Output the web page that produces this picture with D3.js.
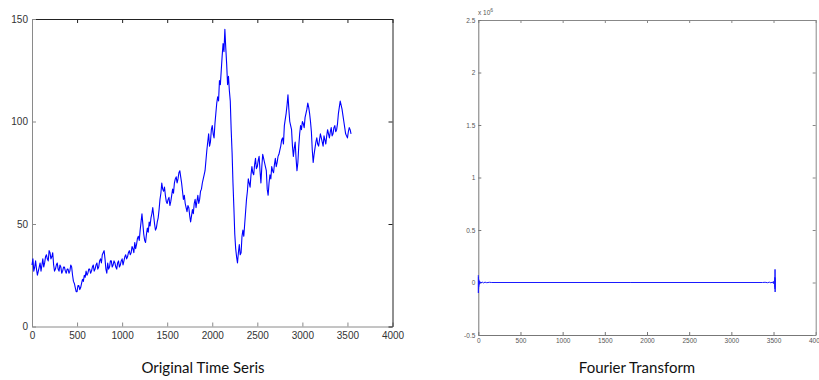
<!DOCTYPE html>
<html>
<head>
<meta charset="utf-8">
<script src="https://cdn.jsdelivr.net/npm/d3@7/dist/d3.min.js"></script>
<style>
  html, body { margin: 0; padding: 0; background: #fff; }
  svg { display: block; }
</style>
</head>
<body>
<svg id="chart" width="819" height="380"></svg>
<script>
// ---------------- DATA ----------------
const seriesStep = 10;
const seriesValues = [
  30, 33, 27, 29, 32, 28, 25, 27, 29, 31, 27, 30, 33, 29, 31, 34, 35, 33, 32, 37,
  36, 33, 34, 36, 30, 27, 28, 30, 31, 28, 27, 30, 29, 26, 27, 29, 29, 27, 26, 28,
  28, 26, 27, 30, 29, 25, 22, 21, 19, 17, 17, 20, 20, 18, 19, 21, 23, 22, 25, 24,
  27, 25, 26, 28, 28, 26, 27, 29, 30, 27, 28, 30, 31, 28, 29, 32, 33, 31, 35, 36,
  37, 33, 28, 26, 31, 28, 29, 32, 32, 29, 30, 32, 31, 29, 28, 31, 32, 29, 30, 32,
  33, 30, 32, 34, 35, 33, 34, 36, 37, 35, 36, 39, 38, 36, 41, 38, 40, 43, 44, 42,
  47, 51, 55, 50, 45, 42, 41, 45, 48, 46, 51, 49, 53, 55, 58, 54, 50, 47, 48, 51,
  53, 57, 62, 65, 70, 67, 66, 68, 64, 61, 60, 62, 63, 59, 61, 64, 67, 65, 70, 72,
  73, 70, 72, 75, 76, 73, 70, 66, 62, 64, 60, 58, 56, 59, 58, 54, 51, 54, 57, 55,
  60, 62, 58, 61, 64, 60, 62, 66, 67, 70, 72, 74, 76, 81, 86, 90, 94, 88, 90, 96,
  98, 94, 92, 99, 104, 109, 112, 110, 120, 118, 125, 132, 138, 134, 145, 136, 128, 118, 122, 115,
  110, 96, 85, 70, 58, 45, 38, 34, 31, 36, 40, 35, 36, 44, 47, 44, 50, 56, 62, 66,
  72, 70, 68, 74, 78, 75, 74, 79, 82, 77, 78, 81, 83, 76, 70, 78, 84, 82, 80, 78,
  76, 67, 64, 70, 74, 72, 78, 76, 75, 79, 82, 78, 80, 83, 84, 86, 88, 91, 92, 89,
  98, 101, 104, 108, 113, 106, 100, 98, 96, 88, 83, 87, 90, 82, 76, 80, 88, 94, 98, 96,
  100, 99, 97, 102, 104, 106, 109, 107, 104, 100, 95, 86, 80, 84, 87, 90, 92, 89, 88, 91,
  94, 92, 90, 88, 93, 91, 89, 93, 96, 94, 92, 95, 97, 93, 94, 97, 98, 95, 96, 99,
  104, 107, 110, 108, 106, 103, 100, 97, 94, 93, 92, 95, 97, 96, 94
];

// Fourier transform (x 10^6), sparse points
const fftIndex = [0, 1, 2, 3, 4, 5, 6, 8, 10, 14, 20, 30, 45, 60, 80, 100, 130, 160,
  1800, 3370, 3400, 3430, 3450, 3470, 3485, 3495, 3500, 3505, 3509, 3512, 3514, 3515,
  3516, 3517, 3518, 3519, 3520, 3521];
const fftValues = [0.07, -0.1, 0.05, -0.06, 0.03, -0.04, 0.02, -0.02, 0.015, -0.012,
  0.008, -0.006, 0.005, -0.004, 0.003, -0.002, 0.002, 0,
  0, 0, 0.002, -0.002, 0.003, -0.004, 0.005, -0.006, 0.008, -0.012, 0.015, -0.02, 0.03,
  -0.04, 0.05, -0.06, 0.125, -0.09, 0.04, 0];

// Tick values / labels
const xTicks = [0, 500, 1000, 1500, 2000, 2500, 3000, 3500, 4000];
const leftYTicks = [0, 50, 100, 150];
const rightYTicks = [-0.5, 0, 0.5, 1, 1.5, 2, 2.5];
const rightYLabels = ["-0.5", "0", "0.5", "1", "1.5", "2", "2.5"];
const titles = ["Original Time Seris", "Fourier Transform"];

// ---------------- DRAW ----------------
const svg = d3.select("#chart");

function panel(opt) {
  const g = svg.append("g");
  const x = d3.scaleLinear().domain([0, 4000]).range([opt.x0, opt.x1]);
  const y = d3.scaleLinear().domain(opt.yDomain).range([opt.y1, opt.y0]);
  const tickFont = opt.font;

  const bottom = g.append("g").attr("transform", `translate(0,${opt.y1})`)
    .call(d3.axisBottom(x).tickValues(xTicks).tickSizeInner(-opt.tick).tickSizeOuter(0)
      .tickPadding(opt.xPad).tickFormat(d3.format("d")));
  const top = g.append("g").attr("transform", `translate(0,${opt.y0})`)
    .call(d3.axisTop(x).tickValues(xTicks).tickSizeInner(-opt.tick).tickSizeOuter(0).tickFormat(""));
  const left = g.append("g").attr("transform", `translate(${opt.x0},0)`)
    .call(d3.axisLeft(y).tickValues(opt.yTicks).tickSizeInner(-opt.tick).tickSizeOuter(0)
      .tickPadding(opt.yPad).tickFormat((d, i) => opt.yLabels[i]));
  const right = g.append("g").attr("transform", `translate(${opt.x1},0)`)
    .call(d3.axisRight(y).tickValues(opt.yTicks).tickSizeInner(-opt.tick).tickSizeOuter(0).tickFormat(""));

  [[bottom, opt.cBottom], [top, opt.cTop], [left, opt.cLeft], [right, opt.cRight]].forEach(([a, c]) => {
    a.select(".domain").attr("stroke", c).attr("stroke-width", 1);
    a.selectAll(".tick line").attr("stroke", c).attr("stroke-width", 1);
    a.selectAll(".tick text").attr("font-family", tickFont).attr("font-size", opt.fs)
      .attr("fill", opt.textColor);
  });

  g.append("text").attr("x", opt.titleX).attr("y", 373).attr("text-anchor", "middle")
    .attr("font-family", "Lato, 'Open Sans', sans-serif").attr("font-size", 15)
    .attr("fill", "#111").text(opt.title);
  return { g, x, y };
}

// Left panel
const L = panel({
  x0: 32, x1: 392.5, y0: 19, y1: 326.5, yDomain: [0, 150], tick: 4,
  yTicks: leftYTicks, yLabels: leftYTicks.map(String),
  xPad: 5, yPad: 4, font: "'Liberation Sans', Arial, sans-serif", fs: 10, textColor: "#333",
  cBottom: "#8a8a8a", cLeft: "#8a8a8a", cTop: "#222", cRight: "#222",
  titleX: 203, title: titles[0]
});
L.g.append("path")
  .datum(seriesValues)
  .attr("fill", "none").attr("stroke", "#0000ff").attr("stroke-width", 1.1)
  .attr("stroke-linejoin", "round")
  .attr("d", d3.line().x((d, i) => L.x(i * seriesStep)).y(d => L.y(d)));

// Right panel
const R = panel({
  x0: 478.3, x1: 815.7, y0: 20, y1: 335, yDomain: [-0.5, 2.5], tick: 3,
  yTicks: rightYTicks, yLabels: rightYLabels,
  xPad: 3, yPad: 3, font: "'Liberation Sans', Arial, sans-serif", fs: 6.5, textColor: "#555",
  cBottom: "#777", cLeft: "#777", cTop: "#888", cRight: "#888",
  titleX: 637, title: titles[1]
});
R.g.append("path")
  .datum(fftIndex.map((d, i) => [d, fftValues[i]]))
  .attr("fill", "none").attr("stroke", "#1a1aff").attr("stroke-width", 1)
  .attr("d", d3.line().x(d => R.x(d[0])).y(d => R.y(d[1])));

const expo = R.g.append("text").attr("x", 478).attr("y", 15)
  .attr("font-family", "'Liberation Sans', Arial, sans-serif").attr("font-size", 6.5).attr("fill", "#555");
expo.append("tspan").text("x 10");
expo.append("tspan").attr("dy", -3).attr("font-size", 5).text("6");
</script>
</body>
</html>
